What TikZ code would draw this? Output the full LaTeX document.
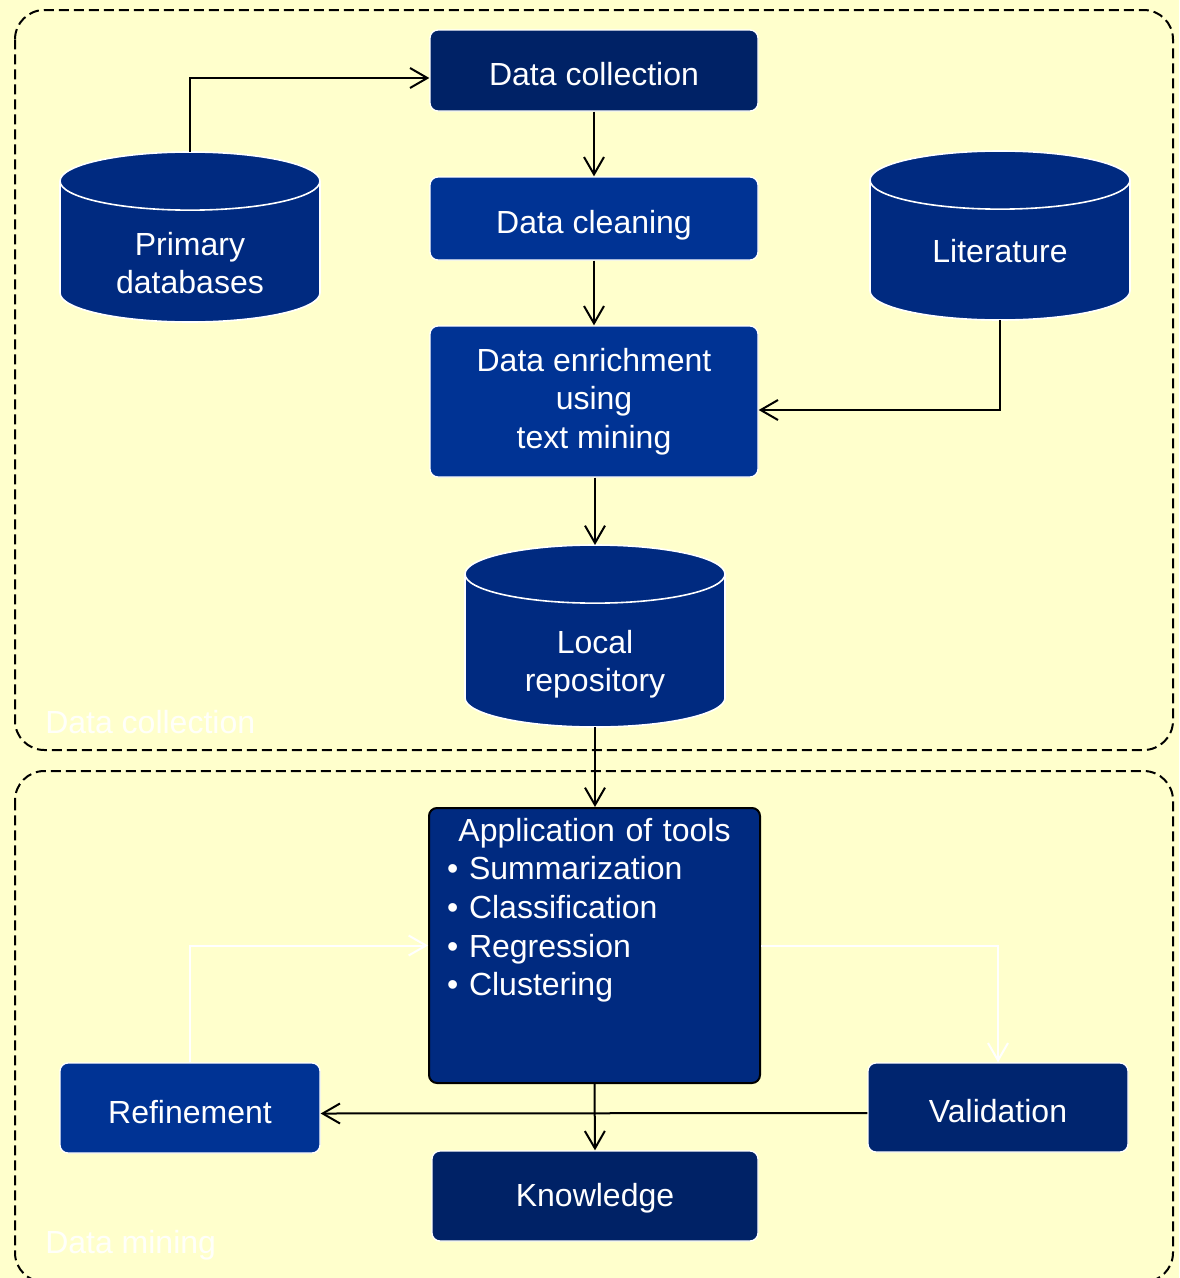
\documentclass[tikz,border=0pt]{standalone}
\usepackage{fontspec}
\setmainfont{Liberation Sans}
\usetikzlibrary{shapes.geometric,arrows.meta,calc}
\definecolor{paper}{HTML}{FFFFCC}
\definecolor{navy}{HTML}{002266}
\definecolor{royal}{HTML}{003394}
\definecolor{mid}{HTML}{002A80}
\definecolor{valblue}{HTML}{00256F}
\tikzset{
  txt/.style={font=\fontsize{24}{28.9}\selectfont, text=white, align=center},
  box/.style={txt, rectangle, rounded corners=6pt, draw=white, line width=1pt, inner sep=0pt},
  oneline/.style={text height=22.8pt, text depth=0pt},
  db/.style={txt, cylinder, shape border rotate=90, aspect=0.43, draw=white,
    line width=1.2pt, fill=mid, inner sep=0pt, outer sep=0pt, anchor=shape center},
  dblabel/.style={txt, inner sep=0pt},
  region/.style={draw=black, dashed, dash pattern=on 7.5pt off 3.75pt, line width=1.5pt, rounded corners=22pt},
  regionlabel/.style={font=\fontsize{24}{28.9}\selectfont, text=white, text opacity=0.9, inner sep=0pt},
  flow/.style={draw=black, line width=1.5pt, -{Straight Barb[length=13pt,width=15pt,line width=1.5pt]}},
  backflow/.style={flow, draw=white}
}
\begin{document}
\begin{tikzpicture}[x=0.75pt,y=-0.75pt]
  % page and the two dashed groups
  \fill[paper] (0,0) rectangle (1179,1278);
  \useasboundingbox (0,0) rectangle (1179,1278);
  \draw[region] (15,10) rectangle (1173,750);
  \draw[region] (15,771) rectangle (1173,1282);
  \node[regionlabel, anchor=base west] (lblcol) at (45,733) {Data collection};
  \node[regionlabel, anchor=base west] (lblmin) at (45,1253) {Data mining};

  % collection stage
  \node[box, oneline, fill=navy, minimum width=246pt, minimum height=60.75pt] (dc) at (594,70.5) {Data collection};
  \node[box, oneline, fill=royal, minimum width=246pt, minimum height=62.25pt] (clean) at (594,218.5) {Data cleaning};
  \node[box, fill=royal, minimum width=246pt, minimum height=113.25pt] (enr) at (594,401.5) {Data enrichment\\using\\text mining};

  % databases: cylinder bodies with their captions
  \node[db, minimum width=195pt, minimum height=127.5pt] (prim) at (190,237) {\phantom{Literature}};
  \node[dblabel] (primtext) at (190,263) {Primary\\databases};
  \node[db, minimum width=195pt, minimum height=126.75pt] (lit) at (1000,235.5) {\phantom{Literature}};
  \node[dblabel] (littext) at (1000,251) {Literature};
  \node[db, minimum width=195pt, minimum height=136.5pt] (repo) at (595,636) {\phantom{Literature}};
  \node[dblabel] (repotext) at (595,664) {Local\\repository};

  % mining stage
  \node[rectangle, rounded corners=6pt, draw=black, line width=1.5pt, fill=mid,
        minimum width=248.25pt, minimum height=206.25pt] (app) at (594.5,945.5) {};
  \node[txt, anchor=north, align=left, text width=230pt, inner sep=0pt] (apptext) at ($(app.north)+(0,11)$)
    {\makebox[\linewidth][c]{Application of tools}\\
     \hspace*{4.5pt}\textbullet\ Summarization\\
     \hspace*{4.5pt}\textbullet\ Classification\\
     \hspace*{4.5pt}\textbullet\ Regression\\
     \hspace*{4.5pt}\textbullet\ Clustering};
  \node[box, oneline, fill=royal, minimum width=195pt, minimum height=67.5pt] (ref) at (190,1108) {Refinement};
  \node[box, oneline, fill=valblue, minimum width=195pt, minimum height=66.75pt] (val) at (998,1107.5) {Validation};
  \node[box, oneline, text depth=7.5pt, fill=navy, minimum width=244.5pt, minimum height=67.5pt] (know) at (595,1196) {Knowledge};

  % connectors
  \draw[flow] (prim.north) |- ($(dc.west)+(0,7.5)$);
  \draw[flow] (dc.south) -- (clean.north);
  \draw[flow] (clean.south) -- (enr.north);
  \draw[flow] (lit.south) |- ($(enr.east)+(0,8.5)$);
  \draw[flow] (enr.south -| repo.north) -- (repo.north);
  \draw[flow] (repo.south) -- (repo.south |- app.north);
  \draw[backflow] (ref.north) |- (app.west);
  \draw[backflow] (app.east) -| (val.north);
  \draw[flow] ($(val.west)+(0,5.5)$) -- ($(ref.east)+(0,5.5)$);
  \draw[flow] (app.south) -- (know.north);
\end{tikzpicture}
\end{document}
